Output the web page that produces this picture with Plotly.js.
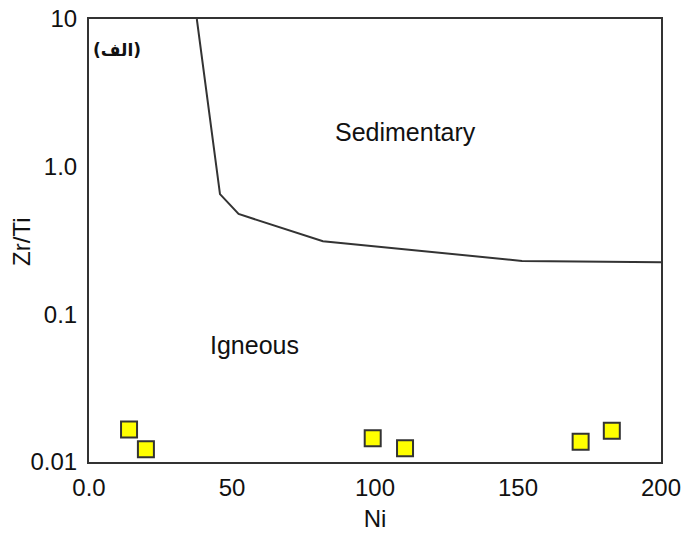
<!DOCTYPE html>
<html>
<head>
<meta charset="utf-8">
<script src="https://cdn.plot.ly/plotly-3.0.1.min.js"></script>
<style>html,body{margin:0;padding:0;background:#fff;}#chart{width:686px;height:533px;}</style>
</head>
<body>
<div id="chart"></div>
<script>
// Boundary line between Sedimentary and Igneous fields
const boundaryNi = [37.7, 45.8, 52.3, 81.8, 151.4, 200];
const boundaryZrTi = [10, 0.652, 0.478, 0.313, 0.230, 0.225];

// Samples
const sampleNi = [14.0, 19.9, 99.2, 110.5, 171.9, 182.8];
const sampleZrTi = [0.0166, 0.0122, 0.0145, 0.0124, 0.0137, 0.0163];

// Axis ticks
const xTickVals = [0, 50, 100, 150, 200];
const xTickText = ['0.0', '50', '100', '150', '200'];
const yTickVals = [0.01, 0.1, 1, 10];
const yTickText = ['0.01', '0.1', '1.0', '10'];

// Field labels
const labelText = ['Sedimentary', 'Igneous'];
const labelNi = [110.8, 58];
const labelZrTi = [1.71, 0.062];

const traces = [
  {
    x: boundaryNi, y: boundaryZrTi, mode: 'lines', type: 'scatter',
    line: {color: '#333333', width: 2}, hoverinfo: 'skip'
  },
  {
    x: sampleNi, y: sampleZrTi, mode: 'markers', type: 'scatter',
    marker: {symbol: 'square', size: 16, color: '#ffff00', line: {color: '#333333', width: 2}}
  }
];

const annotations = labelText.map((t, i) => ({
  x: labelNi[i], y: Math.log10(labelZrTi[i]), xref: 'x', yref: 'y',
  text: t, showarrow: false, font: {family: 'Liberation Sans, Arial, sans-serif', size: 25, color: '#111'}
}));
annotations.push({
  x: 0.049, y: 0.93, xref: 'paper', yref: 'paper', xanchor: 'center', yanchor: 'middle',
  text: '<b>(الف)</b>', showarrow: false,
  font: {family: 'DejaVu Sans, sans-serif', size: 17, color: '#111'}
});
// y-axis title placed as rotated text
annotations.push({
  x: -0.117, y: 0.497, xref: 'paper', yref: 'paper', xanchor: 'center', yanchor: 'middle',
  text: 'Zr/Ti', textangle: -90, showarrow: false,
  font: {family: 'Liberation Sans, Arial, sans-serif', size: 24, color: '#111'}
});

const layout = {
  width: 686, height: 533,
  margin: {l: 89, r: 25, t: 19, b: 71},
  paper_bgcolor: '#ffffff', plot_bgcolor: '#ffffff',
  showlegend: false,
  font: {family: 'Liberation Sans, Arial, sans-serif', size: 24, color: '#111'},
  xaxis: {
    range: [0, 200], tickvals: xTickVals, ticktext: xTickText,
    showgrid: false, zeroline: false, showline: true, mirror: true,
    linecolor: '#333333', linewidth: 2, ticks: '', ticklabelstandoff: 3,
    title: {text: 'Ni', standoff: 10, font: {size: 24}}
  },
  yaxis: {
    type: 'log', range: [-2, 1], tickvals: yTickVals, ticktext: yTickText,
    showgrid: false, zeroline: false, showline: true, mirror: true,
    linecolor: '#333333', linewidth: 2, ticks: '', ticklabelstandoff: 5
  },
  annotations: annotations
};

Plotly.newPlot('chart', traces, layout, {displayModeBar: false, staticPlot: true});
</script>
</body>
</html>
